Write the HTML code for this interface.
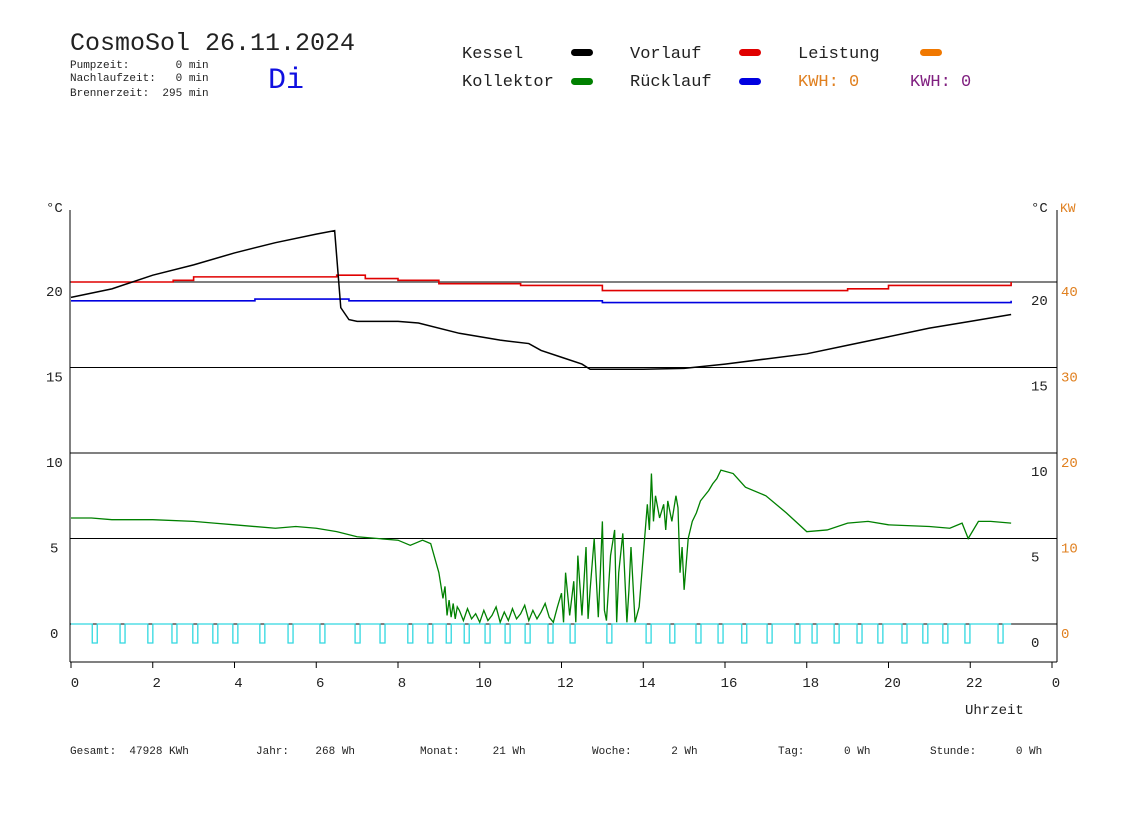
<!DOCTYPE html>
<html><head><meta charset="utf-8"><style>
body{margin:0;background:#fff;width:1148px;height:812px;overflow:hidden}
svg text{font-family:"Liberation Mono","DejaVu Sans Mono",monospace}
</style></head><body>
<svg id="chart" width="1148" height="812" xmlns="http://www.w3.org/2000/svg">
<g>
<text x="70" y="50" font-size="25" fill="#222">CosmoSol 26.11.2024</text>
<text x="70" y="68" font-size="11" fill="#222" xml:space="preserve">Pumpzeit:       0 min</text>
<text x="70" y="81" font-size="11" fill="#222" xml:space="preserve">Nachlaufzeit:   0 min</text>
<text x="70" y="96" font-size="11" fill="#222" xml:space="preserve">Brennerzeit:  295 min</text>
<text x="268" y="88" font-size="30" fill="#1010e0">Di</text>
</g>
<g font-size="17">
<text x="462" y="58" fill="#222">Kessel</text>
<rect x="571" y="49" width="22" height="7" rx="3.5" fill="#000"/>
<text x="630" y="58" fill="#222">Vorlauf</text>
<rect x="739" y="49" width="22" height="7" rx="3.5" fill="#e00000"/>
<text x="798" y="58" fill="#222">Leistung</text>
<rect x="920" y="49" width="22" height="7" rx="3.5" fill="#f07800"/>
<text x="462" y="86" fill="#222">Kollektor</text>
<rect x="571" y="78" width="22" height="7" rx="3.5" fill="#008000"/>
<text x="630" y="86" fill="#222">Rücklauf</text>
<rect x="739" y="78" width="22" height="7" rx="3.5" fill="#0000e0"/>
<text x="798" y="86" fill="#e08020">KWH: 0</text>
<text x="910" y="86" fill="#802080">KWH: 0</text>
</g>
<g id="axes"></g>
<g id="marks"></g>
<g font-size="11" fill="#222">
<text x="70" y="754" xml:space="preserve">Gesamt:  47928 KWh</text>
<text x="256" y="754" xml:space="preserve">Jahr:    268 Wh</text>
<text x="420" y="754" xml:space="preserve">Monat:     21 Wh</text>
<text x="592" y="754" xml:space="preserve">Woche:      2 Wh</text>
<text x="778" y="754" xml:space="preserve">Tag:      0 Wh</text>
<text x="930" y="754" xml:space="preserve">Stunde:      0 Wh</text>
</g>
</svg>
<script>
const xTicks=[0,2,4,6,8,10,12,14,16,18,20,22,24];
const xTickLabels=["0","2","4","6","8","10","12","14","16","18","20","22","0"];
const yTicks=[0,5,10,15,20];
const kwTicks=[0,10,20,30,40];
const kesselT=[0,1,2,3,4,5,6,6.45,6.5,6.6,6.8,7,8,8.5,9.5,10.5,11.2,11.5,12,12.5,12.7,13,14,15,16,17,18,19,20,21,22,23];
const kesselV=[19.1,19.6,20.4,21.0,21.7,22.3,22.8,23.0,21.5,18.5,17.8,17.7,17.7,17.6,17.0,16.6,16.4,16.0,15.6,15.2,14.9,14.9,14.9,14.95,15.2,15.5,15.8,16.3,16.8,17.3,17.7,18.1];
const vorlaufT=[0,2.5,3,6.5,7.2,8,9,11,13,18,19,20,23];
const vorlaufV=[20.0,20.1,20.3,20.4,20.2,20.1,19.9,19.8,19.5,19.5,19.6,19.8,20.0];
const ruecklaufT=[0,4.5,6.8,13,15,20,23];
const ruecklaufV=[18.9,19.0,18.9,18.8,18.8,18.8,18.9];
const kollT=[0,0.5,1,2,3,3.5,4,5,5.5,6,6.5,7,7.5,8,8.3,8.6,8.8,9.0,9.1,9.15,9.2,9.25,9.3,9.35,9.4,9.45,9.5,9.6,9.7,9.8,9.9,10,10.1,10.2,10.3,10.4,10.5,10.6,10.7,10.8,10.9,11.0,11.1,11.2,11.3,11.4,11.5,11.6,11.7,11.8,11.9,12,12.05,12.1,12.2,12.3,12.35,12.4,12.5,12.6,12.65,12.7,12.8,12.9,12.95,13.0,13.05,13.1,13.2,13.3,13.35,13.4,13.5,13.6,13.65,13.7,13.8,13.9,14.0,14.1,14.15,14.2,14.25,14.3,14.4,14.5,14.55,14.6,14.7,14.8,14.85,14.9,14.95,15.0,15.05,15.1,15.2,15.3,15.4,15.5,15.6,15.7,15.8,15.9,16.2,16.5,17,17.5,18,18.5,19,19.5,20,21,21.5,21.8,21.95,22.2,22.5,23];
const kollV=[6.2,6.2,6.1,6.1,6.0,5.9,5.8,5.6,5.7,5.6,5.4,5.1,5.0,4.9,4.6,4.9,4.7,3.0,1.5,2.2,0.5,1.4,0.4,1.2,0.3,1.0,0.8,0.2,0.9,0.3,0.6,0.1,0.8,0.2,0.5,1.0,0.1,0.7,0.2,0.9,0.3,0.6,1.1,0.2,0.8,0.3,0.7,1.2,0.4,0.1,1.0,1.8,0.1,3.0,0.5,2.5,0.1,4.0,0.5,4.5,0.3,2.0,5.0,0.4,3.0,6.0,0.8,0.2,4.0,5.5,0.1,3.0,5.3,0.1,2.0,4.5,0.1,1.0,4.0,7.0,5.5,8.8,6.0,7.5,6.2,7.0,5.5,7.2,6.0,7.5,6.8,3.0,4.5,2.0,3.5,5.0,6.0,6.5,7.2,7.5,7.8,8.2,8.5,9.0,8.8,8.0,7.5,6.5,5.4,5.5,5.9,6.0,5.8,5.7,5.6,5.9,5.0,6.0,6.0,5.9];
const pumpPulses=[0.52,1.2,1.88,2.47,2.98,3.47,3.96,4.62,5.31,6.09,6.95,7.56,8.24,8.73,9.18,9.62,10.13,10.62,11.11,11.67,12.21,13.11,14.07,14.65,15.29,15.83,16.41,17.03,17.71,18.13,18.67,19.23,19.74,20.33,20.84,21.33,21.87,22.68];
const NS="http://www.w3.org/2000/svg";
const X0=71,X1=1052,Y0=624,PX=17.1;
const xs=h=>X0+h*(X1-X0)/24;
const ys=v=>Y0-v*PX;
const yk=k=>Y0-k*PX/2;
const axes=document.getElementById('axes'),marks=document.getElementById('marks');
function mk(tag,at,parent){const e=document.createElementNS(NS,tag);for(const k in at)e.setAttribute(k,at[k]);parent.appendChild(e);return e;}
yTicks.forEach((v,i)=>{const l=mk('line',{x1:70,x2:1057,y1:ys(v),y2:ys(v),stroke:'#000','stroke-width':1},axes);


const t=mk('text',{x:v>=10?46:50,y:ys(v)+14,'font-size':14,fill:'#222'},axes);t.textContent=v;


const t2=mk('text',{x:1031,y:ys(v)+23,'font-size':14,fill:'#222'},axes);t2.textContent=v;

});
kwTicks.forEach(k=>{const t=mk('text',{x:1061,y:yk(k)+14,'font-size':14,fill:'#e08020'},axes);t.textContent=k;

});
[['line',{x1:70,x2:70,y1:210,y2:662,stroke:'#000'}],['line',{x1:1057,x2:1057,y1:210,y2:662,stroke:'#000'}],['line',{x1:70,x2:1057,y1:662,y2:662,stroke:'#000'}]].forEach((a,i)=>{const e=mk(a[0],a[1],axes);

});
const u1=mk('text',{x:46,y:212,'font-size':14,fill:'#222'},axes);u1.textContent='°C';


const u2=mk('text',{x:1031,y:212,'font-size':14,fill:'#222'},axes);u2.textContent='°C';


const u3=mk('text',{x:1060,y:212,'font-size':13,fill:'#e08020'},axes);u3.textContent='KW';


xTicks.forEach((h,i)=>{const l=mk('line',{x1:xs(h),x2:xs(h),y1:662,y2:668,stroke:'#000'},axes);


const t=mk('text',{x:xs(h)+4,y:687,'font-size':14,fill:'#222','text-anchor':'middle'},axes);t.textContent=xTickLabels[i];

});
const xt=mk('text',{x:965,y:714,'font-size':14,fill:'#222'},axes);xt.textContent='Uhrzeit';


function path(T,V,step){let d='';T.forEach((t,i)=>{if(i===0)d+='M'+xs(t)+','+ys(V[i]);else if(step)d+='H'+xs(t)+'V'+ys(V[i]);else d+='L'+xs(t)+','+ys(V[i]);});return d;}
let pd='M'+xs(0)+','+Y0;pumpPulses.forEach(p=>{pd+='H'+xs(p)+'V'+(Y0+19)+'H'+(xs(p)+5)+'V'+Y0;});pd+='H'+xs(23);
const pp=mk('path',{d:pd,fill:'none',stroke:'#30d8e0','stroke-width':1.3},marks);


const s=[[ruecklaufT,ruecklaufV,'#0000e0',true,'ruecklauf-series',1.6],[vorlaufT,vorlaufV,'#e00000',true,'vorlauf-series',1.6],[kollT,kollV,'#008000',false,'kollektor-series',1.3],[kesselT,kesselV,'#000',false,'kessel-series',1.5]];
s.forEach(a=>{const e=mk('path',{d:path(a[0],a[1],a[3]),fill:'none',stroke:a[2],'stroke-width':a[5]},marks);

});
</script>
</body></html>
